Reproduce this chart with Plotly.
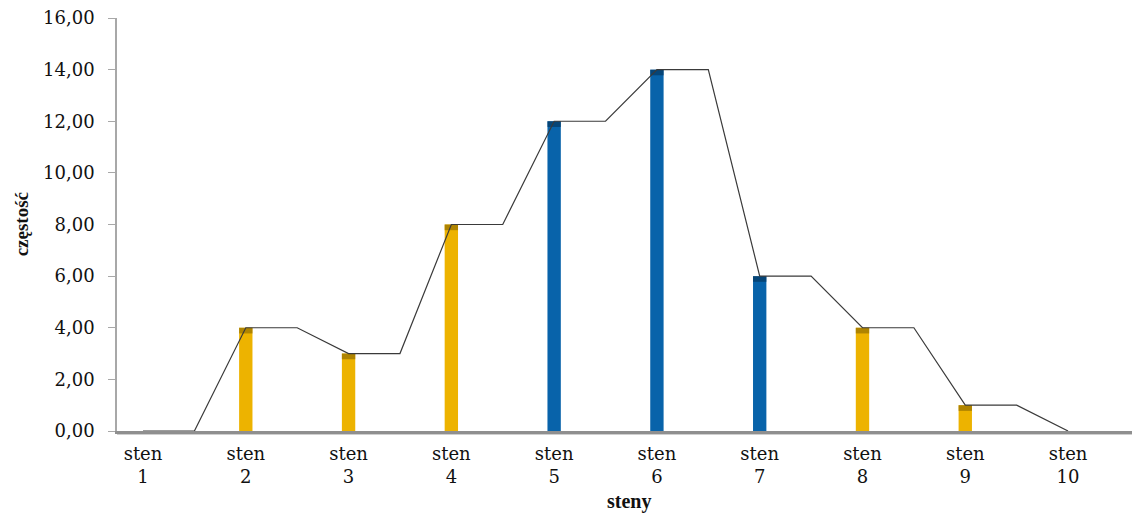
import plotly.graph_objects as go

categories = ["sten<br>1", "sten<br>2", "sten<br>3", "sten<br>4", "sten<br>5",
              "sten<br>6", "sten<br>7", "sten<br>8", "sten<br>9", "sten<br>10"]
values = [0, 4, 3, 8, 12, 14, 6, 4, 1, 0]
bar_colors = ["#EDB300", "#EDB300", "#EDB300", "#EDB300", "#0863AA",
              "#0863AA", "#0863AA", "#EDB300", "#EDB300", "#EDB300"]
top_colors = ["#9A7400", "#9A7400", "#9A7400", "#9A7400", "#053B66",
              "#053B66", "#053B66", "#9A7400", "#9A7400", "#9A7400"]
y_ticks = [0, 2, 4, 6, 8, 10, 12, 14, 16]
y_ticktext = ["0,00", "2,00", "4,00", "6,00", "8,00", "10,00", "12,00", "14,00", "16,00"]

xpos = list(range(1, len(values) + 1))

# step-like frequency line: each value at its category and held to the half-way point
line_x, line_y = [], []
for i, v in zip(xpos, values):
    line_x.append(i)
    line_y.append(v)
    if i < xpos[-1]:
        line_x.append(i + 0.5)
        line_y.append(v)

fig = go.Figure()
fig.add_trace(go.Bar(x=xpos, y=values, width=0.13, marker=dict(color=bar_colors, line=dict(width=0)),
                     showlegend=False, hoverinfo="skip"))
# darker top caps of the bars
cap = 0.22
cap_x = [i for i, v in zip(xpos, values) if v > 0]
cap_base = [v - cap for v in values if v > 0]
cap_cols = [c for c, v in zip(top_colors, values) if v > 0]
fig.add_trace(go.Bar(x=cap_x, y=[cap] * len(cap_x), base=cap_base,
                     width=0.13, marker=dict(color=cap_cols, line=dict(width=0), opacity=0.75),
                     showlegend=False, hoverinfo="skip"))
fig.add_trace(go.Scatter(x=line_x, y=line_y, mode="lines",
                         line=dict(color="#3a3a3a", width=1.2), showlegend=False, hoverinfo="skip"))

fig.update_layout(
    width=1132, height=505,
    margin=dict(l=109, r=0, t=10, b=82),
    paper_bgcolor="white", plot_bgcolor="white",
    barmode="overlay",
    font=dict(family="DejaVu Serif", color="#111111"),
    xaxis=dict(range=[0.747, 10.70], tickvals=xpos, ticktext=categories, automargin=False,
               showgrid=False, zeroline=False, showline=True, linecolor="#8f8f8f", linewidth=3,
               ticks="", ticklabelstandoff=4, layer="above traces",
               tickfont=dict(family="DejaVu Serif", size=18, color="#111111")),
    yaxis=dict(range=[0, 16], tickvals=y_ticks, ticktext=y_ticktext, automargin=False,
               showgrid=False, zeroline=False, showline=True, linecolor="#a8a8a8", linewidth=1.5,
               ticks="outside", ticklen=7, tickcolor="#a8a8a8", ticklabelstandoff=10,
               ticklabeloverflow="allow", layer="above traces",
               tickfont=dict(family="DejaVu Serif", size=18, color="#111111")),
    annotations=[
        dict(text="<b>steny</b>", xref="paper", yref="paper", x=0.5, y=-0.17,
             xanchor="center", yanchor="middle", showarrow=False,
             font=dict(family="Liberation Serif", size=20, color="#111111")),
        dict(text="<b>częstość</b>", xref="paper", yref="paper", x=-0.093, y=0.5,
             xanchor="center", yanchor="middle", showarrow=False, textangle=-90,
             font=dict(family="Liberation Serif", size=19, color="#111111")),
    ],
    shapes=[dict(type="line", xref="paper", yref="paper", x0=0, x1=1, y0=-0.006, y1=-0.006,
                 line=dict(color="#cfcfcf", width=3), layer="below")],
)

fig.write_html("out.html")
